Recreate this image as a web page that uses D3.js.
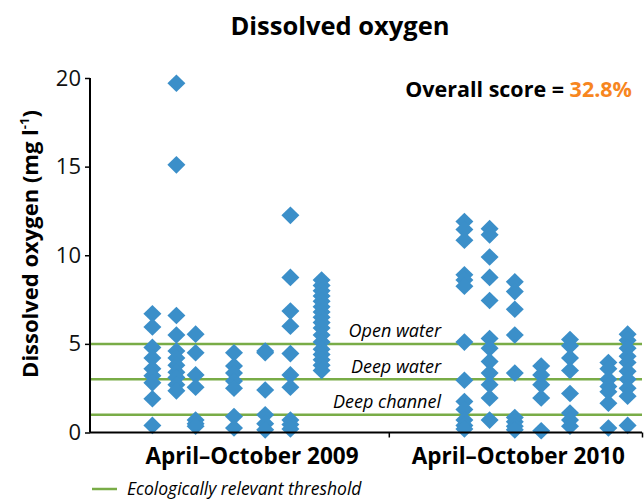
<!DOCTYPE html>
<html>
<head>
<meta charset="utf-8">
<script src="https://cdn.jsdelivr.net/npm/d3@7"></script>
<style>
    body { margin: 0; background: #fff; }
    svg { display: block; font-family: "Open Sans", sans-serif; }
</style>
</head>
<body>
<svg id="chart" width="644" height="500"></svg>
<script>
// data
const periods = ["April–October 2009", "April–October 2010"];
const periodCenters = [6.75, 17.85];
const periodBounds = [12.45, 23];
const sitePositions = [2.6, 3.6, 4.4, 6.0, 7.3, 8.35, 9.65, 15.6, 16.65, 17.7, 18.8, 20.0, 21.6, 22.4];
const siteValues = [
    [6.7, 5.95, 4.8, 4.2, 3.6, 3.2, 2.8, 1.9, 0.4],
    [19.7, 15.1, 6.6, 5.5, 4.6, 4.2, 3.8, 3.4, 3.1, 2.7, 2.35],
    [5.55, 4.5, 3.25, 2.55, 0.7, 0.5, 0.35],
    [4.5, 3.75, 3.35, 2.9, 2.5, 0.9, 0.25],
    [4.6, 4.5, 2.4, 1.0, 0.5, 0.15],
    [12.25, 8.75, 6.85, 6.0, 4.45, 3.25, 2.55, 0.7, 0.45, 0.2],
    [8.6, 8.3, 8.0, 7.7, 7.4, 7.1, 6.8, 6.5, 6.2, 5.9, 5.5, 5.1, 4.7, 4.4, 4.1, 3.8, 3.5],
    [11.9, 11.45, 10.85, 8.9, 8.6, 8.25, 5.1, 2.95, 1.75, 1.3, 0.7, 0.4, 0.2],
    [11.5, 11.15, 9.9, 8.75, 7.45, 5.3, 4.75, 4.0, 3.35, 2.7, 1.95, 0.7],
    [8.5, 7.95, 6.95, 5.5, 3.35, 0.85, 0.6, 0.35, 0.15],
    [3.75, 3.25, 2.7, 1.95, 0.1],
    [5.25, 4.9, 4.2, 3.5, 2.2, 1.1, 0.7, 0.35],
    [3.95, 3.6, 3.0, 2.6, 2.3, 1.65, 0.25],
    [5.55, 5.2, 4.75, 4.3, 3.95, 3.45, 3.0, 2.5, 2.05, 0.4]
];
const thresholds = [5, 3, 1];
const thresholdLabels = ["Open water", "Deep water", "Deep channel"];
const yTicks = [0, 5, 10, 15, 20];
const overallScore = "32.8%";

// layout
const svg = d3.select('#chart');
const plot = {left: 90, right: 642, top: 78, bottom: 432.5};
const x = d3.scaleLinear().domain([0, 23]).range([plot.left, plot.right]);
const y = d3.scaleLinear().domain([0, 20]).range([plot.bottom, plot.top]);
const blue = "#3b8fc9";
const green = "#79ac47";

// title
svg.append('text')
    .attr('x', 340).attr('y', 35)
    .attr('text-anchor', 'middle')
    .style('font-size', '25.5px').style('font-weight', 700)
    .text('Dissolved oxygen');

const score = svg.append('text')
    .attr('x', 632).attr('y', 97)
    .attr('text-anchor', 'end')
    .style('font-size', '21.5px').style('font-weight', 700);
score.append('tspan').text('Overall score = ');
score.append('tspan').attr('fill', '#f7861f').text(overallScore);

// thresholds
const thr = svg.append('g');
thr.selectAll('line')
    .data(thresholds)
    .join('line')
    .attr('x1', plot.left).attr('x2', plot.right)
    .attr('y1', d => y(d)).attr('y2', d => y(d))
    .attr('stroke', green).attr('stroke-width', 2.5);
thr.selectAll('text')
    .data(thresholds)
    .join('text')
    .attr('x', 441).attr('y', d => y(d) - 6.5)
    .attr('text-anchor', 'end')
    .style('font-size', '18px').style('font-style', 'italic')
    .text((d, i) => thresholdLabels[i]);

// diamonds
const points = sitePositions.flatMap((p, i) => siteValues[i].map(v => ({p, v})));
svg.append('g')
    .selectAll('path')
    .data(points)
    .join('path')
    .attr('transform', d => `translate(${x(d.p)},${y(d.v)})`)
    .attr('d', 'M0,-8.8L9,0L0,8.8L-9,0Z')
    .attr('fill', blue);

// y axis
const yAxis = svg.append('g')
    .attr('transform', `translate(${plot.left},0)`)
    .call(d3.axisLeft(y).tickValues(yTicks).tickSize(5).tickPadding(4));
yAxis.select('.domain').attr('stroke-width', 2).attr('d', `M0,${plot.top}V${plot.bottom}`);
yAxis.selectAll('.tick line').attr('stroke-width', 1.5);
yAxis.selectAll('.tick text').style('font-size', '22px').attr('fill', '#111').style('font-family', '"Open Sans", sans-serif');

svg.append('text')
    .attr('transform', 'translate(38,244) rotate(-90)')
    .attr('text-anchor', 'middle')
    .style('font-size', '22px').style('font-weight', 700)
    .html('Dissolved oxygen (mg l<tspan dy="-9" style="font-size:13px">-1</tspan><tspan dy="9">)</tspan>');

// x axis
const xAxis = svg.append('g')
    .attr('transform', `translate(0,${plot.bottom})`)
    .call(d3.axisBottom(x).tickValues(periodBounds).tickSize(5).tickFormat(''));
xAxis.select('.domain').attr('stroke-width', 2).attr('d', `M${plot.left},0H${plot.right}`);
xAxis.selectAll('.tick line').attr('stroke-width', 1.5);
svg.append('g')
    .selectAll('text')
    .data(periods)
    .join('text')
    .attr('x', (d, i) => x(periodCenters[i])).attr('y', 464)
    .attr('text-anchor', 'middle')
    .style('font-size', '22.5px').style('font-weight', 700)
    .text(d => d);

// legend
svg.append('line')
    .attr('x1', 92).attr('x2', 117).attr('y1', 489).attr('y2', 489)
    .attr('stroke', green).attr('stroke-width', 2.5);
svg.append('text')
    .attr('x', 127).attr('y', 495)
    .style('font-size', '17.5px').style('font-style', 'italic')
    .text('Ecologically relevant threshold');
</script>
</body>
</html>
